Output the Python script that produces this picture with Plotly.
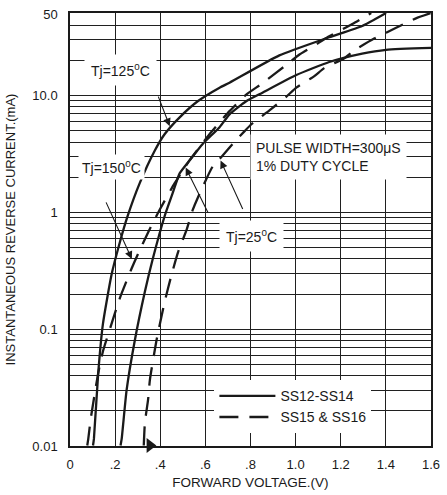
import numpy as np
import plotly.graph_objects as go

# ---- data (forward voltage V, reverse current mA) ----
ss12_125_v = [0.102, 0.106, 0.125, 0.146, 0.184, 0.221, 0.256, 0.309, 0.376, 0.420,
              0.486, 0.566, 0.663, 0.707, 0.928, 1.149, 1.295, 1.401]
ss12_125_i = [0.0101, 0.0115, 0.042, 0.111, 0.292, 0.555, 0.937, 1.78, 3.39, 4.69,
              6.52, 8.95, 11.7, 12.9, 22.1, 31.6, 39.5, 51]

ss12_25_v = [0.224, 0.229, 0.251, 0.287, 0.332, 0.367, 0.420, 0.455, 0.486, 0.530,
             0.588, 0.663, 0.707, 0.781, 0.853, 1.003, 1.149, 1.295, 1.401, 1.600]
ss12_25_i = [0.0101, 0.0115, 0.0302, 0.0797, 0.210, 0.401, 0.937, 1.46, 2.16, 2.79,
             3.86, 5.37, 6.91, 8.95, 10.6, 15.0, 19.4, 22.9, 24.7, 25.6]

ss15_150_v = [0.0765, 0.081, 0.0915, 0.125, 0.147, 0.184, 0.221, 0.273, 0.302, 0.346,
              0.398, 0.464, 0.530, 0.619, 0.707, 0.781, 0.854, 0.972, 1.017, 1.102,
              1.149, 1.251, 1.335]
ss15_150_i = [0.0101, 0.0115, 0.0169, 0.042, 0.0657, 0.111, 0.185, 0.331, 0.444, 0.674,
              1.06, 1.78, 2.79, 4.69, 7.37, 10.2, 12.8, 19.2, 22.5, 28.3,
              32.2, 41.0, 51]

ss15_25_v = [0.327, 0.332, 0.346, 0.354, 0.383, 0.420, 0.450, 0.479, 0.517, 0.544,
             0.566, 0.632, 0.672, 0.729, 0.774, 0.804, 0.884, 0.959, 1.003, 1.083,
             1.127, 1.216, 1.260, 1.348, 1.401, 1.490, 1.538, 1.600]
ss15_25_i = [0.0101, 0.0159, 0.0249, 0.0367, 0.0797, 0.173, 0.292, 0.457, 0.714, 1.05,
             1.33, 2.47, 3.00, 4.02, 4.97, 5.69, 7.47, 9.80, 11.7, 14.7,
             17.2, 20.9, 24.4, 30.8, 34.6, 42.0, 46.3, 51]

x_tick_vals = [0, 0.2, 0.4, 0.6, 0.8, 1.0, 1.2, 1.4, 1.6]
x_tick_text = ["0", ".2", ".4", ".6", ".8", "1.0", "1.2", "1.4", "1.6"]
y_tick_vals = [0.01, 0.1, 1, 10, 50]
y_tick_text = ["0.01", "0.1", "1", "10.0", "50"]
y_minor_vals = [0.02, 0.03, 0.04, 0.05, 0.06, 0.07, 0.08, 0.09,
                0.2, 0.3, 0.4, 0.5, 0.6, 0.7, 0.8, 0.9,
                2, 3, 4, 5, 6, 7, 8, 9, 20, 30, 40]

# marker at the foot of the SS15 & SS16 25 C curve
foot_marker_v = [0.354]
foot_marker_i = [0.0101]

FONT = "Liberation Sans, Arial, Helvetica, sans-serif"
INK = "#1a1a1a"
GRID = "#202020"
DASH = "19px,11px"
SMOOTH = 0.5

fig = go.Figure()
fig.add_trace(go.Scatter(x=ss12_125_v, y=ss12_125_i, mode="lines", name="SS12-SS14",
                         legendgroup="a", showlegend=True,
                         line=dict(color=INK, width=2.3, shape="spline", smoothing=SMOOTH)))
fig.add_trace(go.Scatter(x=ss15_150_v, y=ss15_150_i, mode="lines", name="SS15 & SS16",
                         legendgroup="b", showlegend=True,
                         line=dict(color=INK, width=2.3, dash=DASH, shape="spline", smoothing=SMOOTH)))
fig.add_trace(go.Scatter(x=ss12_25_v, y=ss12_25_i, mode="lines", name="SS12-SS14",
                         legendgroup="a", showlegend=False,
                         line=dict(color=INK, width=2.3, shape="spline", smoothing=SMOOTH)))
fig.add_trace(go.Scatter(x=ss15_25_v, y=ss15_25_i, mode="lines", name="SS15 & SS16",
                         legendgroup="b", showlegend=False,
                         line=dict(color=INK, width=2.3, dash=DASH, shape="spline", smoothing=SMOOTH)))
fig.add_trace(go.Scatter(x=foot_marker_v, y=foot_marker_i, mode="markers", showlegend=False,
                         cliponaxis=False,
                         marker=dict(symbol="triangle-right", size=13, color=INK)))

L = np.log10
ann_font = dict(family=FONT, size=14, color=INK)


def label(text, x, y, pad=4, xanchor="center", align="center"):
    fig.add_annotation(x=x, y=L(y), text=text, showarrow=False, xref="x", yref="y",
                       bgcolor="white", borderpad=pad, font=ann_font,
                       xanchor=xanchor, yanchor="middle", align=align)


def arrow(x_tip, y_tip, x_tail, y_tail):
    fig.add_annotation(x=x_tip, y=L(y_tip), ax=x_tail, ay=L(y_tail), axref="x", ayref="y",
                       xref="x", yref="y", text=" ", showarrow=True,
                       arrowhead=2, arrowsize=1.4, arrowwidth=1.1, arrowcolor=INK,
                       standoff=0, startstandoff=0)


arrow(0.442, 5.48, 0.376, 11.7)
arrow(0.274, 0.399, 0.1445, 1.42)
arrow(0.5127, 2.42, 0.6276, 0.867)
arrow(0.6674, 2.78, 0.781, 0.919)

label("Tj=125<sup>0</sup>C", 0.2254, 16.6, pad=6)
label("Tj=150<sup>0</sup>C", 0.1843, 2.46, pad=3)
label("PULSE WIDTH=300μS<br>1% DUTY CYCLE", 0.7956, 3.0, pad=5, xanchor="left", align="left")
label("Tj=25<sup>0</sup>C", 0.8031, 0.632, pad=6)

fig.update_layout(
    width=447, height=495,
    margin=dict(l=70, r=15, t=7, b=48),
    paper_bgcolor="white", plot_bgcolor="white",
    font=dict(family=FONT, size=13, color=INK),
    legend=dict(x=0.40, y=0.152, xanchor="left", yanchor="top", bgcolor="white",
                borderwidth=0, font=dict(family=FONT, size=14, color=INK),
                tracegroupgap=0, itemwidth=56),
    xaxis=dict(range=[0, 1.6], tickvals=x_tick_vals, ticktext=x_tick_text,
               showgrid=True, gridcolor=GRID, gridwidth=1, zeroline=False,
               showline=True, mirror=True, linecolor=INK, linewidth=1.5,
               ticks="", ticklabelstandoff=6,
               tickfont=dict(family=FONT, size=13, color=INK),
               title=dict(text="FORWARD VOLTAGE.(V)", standoff=6,
                          font=dict(family=FONT, size=13.5, color=INK))),
    yaxis=dict(type="log", range=[-2, L(51)], tickvals=y_tick_vals, ticktext=y_tick_text,
               showgrid=True, gridcolor=GRID, gridwidth=1, zeroline=False,
               showline=True, mirror=True, linecolor=INK, linewidth=1.5,
               ticks="", ticklabelstandoff=8,
               minor=dict(tickvals=y_minor_vals, showgrid=True, gridcolor=GRID,
                          gridwidth=1, ticks=""),
               tickfont=dict(family=FONT, size=13, color=INK),
               title=dict(text="INSTANTANEOUS REVERSE CURRENT.(mA)", standoff=14,
                          font=dict(family=FONT, size=13, color=INK))),
)

fig.write_html("out.html", config={"displayModeBar": False},
               post_script="document.body.style.margin='0';document.body.style.padding='0';")
